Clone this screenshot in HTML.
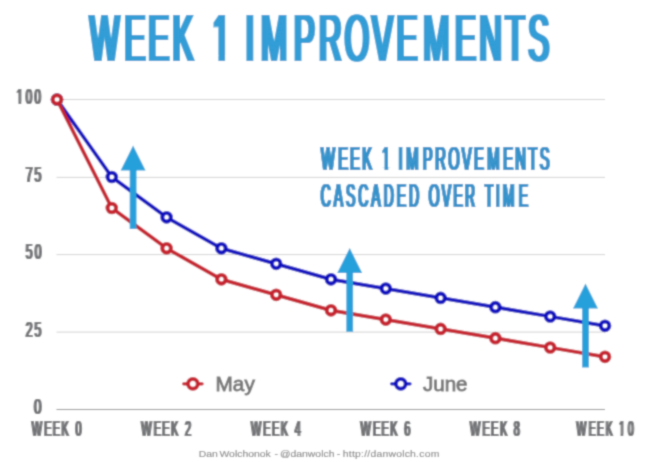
<!DOCTYPE html>
<html><head><meta charset="utf-8"><title>Week 1 Improvements</title>
<style>
html,body{margin:0;padding:0;background:#fff;}
svg{display:block;}
text{font-family:"Liberation Sans",sans-serif;white-space:pre;}
</style></head><body>
<svg width="656" height="462" viewBox="0 0 656 462">
<defs>
<filter id="fat2" x="-5%" y="-30%" width="110%" height="160%"><feOffset in="SourceGraphic" dx="-2" result="o0"/><feOffset in="SourceGraphic" dx="-1" result="o1"/><feOffset in="SourceGraphic" dx="0" result="o2"/><feOffset in="SourceGraphic" dx="1" result="o3"/><feOffset in="SourceGraphic" dx="2" result="o4"/><feMerge><feMergeNode in="o0"/><feMergeNode in="o1"/><feMergeNode in="o2"/><feMergeNode in="o3"/><feMergeNode in="o4"/></feMerge></filter>
<filter id="fat1" x="-5%" y="-30%" width="110%" height="160%"><feOffset in="SourceGraphic" dx="-1.3" result="o0"/><feOffset in="SourceGraphic" dx="-0.65" result="o1"/><feOffset in="SourceGraphic" dx="0" result="o2"/><feOffset in="SourceGraphic" dx="0.65" result="o3"/><feOffset in="SourceGraphic" dx="1.3" result="o4"/><feMerge><feMergeNode in="o0"/><feMergeNode in="o1"/><feMergeNode in="o2"/><feMergeNode in="o3"/><feMergeNode in="o4"/></feMerge></filter>
<filter id="fat06" x="-5%" y="-30%" width="110%" height="160%"><feOffset in="SourceGraphic" dx="-0.85" result="o0"/><feOffset in="SourceGraphic" dx="-0.3" result="o1"/><feOffset in="SourceGraphic" dx="0.3" result="o2"/><feOffset in="SourceGraphic" dx="0.85" result="o3"/><feMerge><feMergeNode in="o0"/><feMergeNode in="o1"/><feMergeNode in="o2"/><feMergeNode in="o3"/></feMerge></filter>
<filter id="soft" filterUnits="userSpaceOnUse" x="-20" y="-20" width="696" height="502"><feConvolveMatrix order="3" kernelMatrix="1 6 1 6 36 6 1 6 1" divisor="64" edgeMode="duplicate" preserveAlpha="false"/><feConvolveMatrix order="3" kernelMatrix="1 6 1 6 36 6 1 6 1" divisor="64" edgeMode="duplicate" preserveAlpha="false"/></filter>
</defs>
<rect width="656" height="462" fill="#fff"/>
<g filter="url(#soft)">
<rect x="-20" y="-20" width="696" height="502" fill="#fff"/>

<line x1="56.5" x2="605" y1="99.5" y2="99.5" stroke="#d2d2d2" stroke-width="1"/>
<line x1="56.5" x2="605" y1="177.4" y2="177.4" stroke="#d2d2d2" stroke-width="1"/>
<line x1="56.5" x2="605" y1="254.6" y2="254.6" stroke="#d2d2d2" stroke-width="1"/>
<line x1="56.5" x2="605" y1="332.1" y2="332.1" stroke="#d2d2d2" stroke-width="1"/>
<line x1="56.5" x2="605" y1="409.5" y2="409.5" stroke="#8a8a8a" stroke-width="1"/>
<g filter="url(#fat2)"><text transform="scale(0.4755,1)" x="188.69 261.85 311.70 362.82 413.29 446.89 477.65 516.14 548.66 618.15 671.02 725.17 782.12 833.84 889.92 956.98 1007.86 1062.88 1110.98" y="60.9" font-size="65.84" font-weight="normal" fill="#309dd6">WEEK 1 IMPROVEMENTS</text></g>
<rect x="211.86" y="55.38" width="6.49" height="6.92" fill="#fff"/>
<rect x="225.11" y="55.38" width="6.24" height="6.92" fill="#fff"/>
<g filter="url(#fat1)"><text transform="scale(0.4522,1)" x="709.89 748.05 774.20 801.05 827.91 844.87 861.68 881.05 898.66 934.99 962.79 991.23 1021.00 1048.17 1077.73 1112.79 1139.50 1168.26 1193.56" y="170.2" font-size="32.56" font-weight="normal" fill="#3492cb">WEEK 1 IMPROVEMENTS</text></g>
<rect x="380.88" y="167.17" width="3.58" height="4.43" fill="#fff"/>
<rect x="388.26" y="167.17" width="3.47" height="4.43" fill="#fff"/>
<g filter="url(#fat1)"><text transform="scale(0.4280,1)" x="749.15 779.66 808.15 836.99 867.49 896.44 927.03 955.78 983.08 1001.48 1032.42 1059.47 1086.56 1113.21 1132.53 1158.24 1174.56 1211.76" y="206.9" font-size="32.56" font-weight="normal" fill="#3492cb">CASCADED OVER TIME</text></g>
<g filter="url(#fat06)"><text transform="scale(0.5059,1)" x="32.50 50.67 68.31" y="104.2" font-size="22.82" font-weight="normal" fill="#707174">100</text></g>
<rect x="15.42" y="101.90" width="3.02" height="3.70" fill="#fff"/>
<rect x="21.26" y="101.90" width="2.93" height="3.70" fill="#fff"/>
<g filter="url(#fat06)"><text transform="scale(0.5354,1)" x="47.92 64.63" y="181.7" font-size="22.82" font-weight="normal" fill="#707174">75</text></g>
<g filter="url(#fat06)"><text transform="scale(0.5299,1)" x="48.71 65.38" y="259.2" font-size="22.82" font-weight="normal" fill="#707174">50</text></g>
<g filter="url(#fat06)"><text transform="scale(0.5349,1)" x="47.99 64.70" y="336.7" font-size="22.82" font-weight="normal" fill="#707174">25</text></g>
<g filter="url(#fat06)"><text transform="scale(0.5867,1)" x="57.91" y="414.2" font-size="22.82" font-weight="normal" fill="#707174">0</text></g>
<g filter="url(#fat06)"><text transform="scale(0.4739,1)" x="66.82 93.17 111.19 129.69 148.98 159.15" y="436.3" font-size="22.97" font-weight="normal" fill="#707174">WEEK 0</text></g>
<g filter="url(#fat06)"><text transform="scale(0.4774,1)" x="295.83 322.01 339.90 358.26 377.47 387.52" y="436.3" font-size="22.97" font-weight="normal" fill="#707174">WEEK 2</text></g>
<g filter="url(#fat06)"><text transform="scale(0.4699,1)" x="533.91 560.46 578.64 597.29 616.67 627.06" y="436.3" font-size="22.97" font-weight="normal" fill="#707174">WEEK 4</text></g>
<g filter="url(#fat06)"><text transform="scale(0.4765,1)" x="756.46 782.69 800.61 819.00 838.23 848.24" y="436.3" font-size="22.97" font-weight="normal" fill="#707174">WEEK 6</text></g>
<g filter="url(#fat06)"><text transform="scale(0.4753,1)" x="989.03 1015.32 1033.29 1051.73 1070.99 1081.12" y="436.3" font-size="22.97" font-weight="normal" fill="#707174">WEEK 8</text></g>
<g filter="url(#fat06)"><text transform="scale(0.4497,1)" x="1281.74 1309.05 1327.80 1347.06 1366.81 1376.33 1396.69" y="436.3" font-size="22.97" font-weight="normal" fill="#707174">WEEK 10</text></g>
<rect x="617.72" y="433.98" width="2.81" height="3.72" fill="#fff"/>
<rect x="623.34" y="433.98" width="2.73" height="3.72" fill="#fff"/>
<polyline points="57.0,99.5 111.8,177.0 166.6,217.3 221.4,248.3 276.2,263.8 331.0,279.3 385.8,288.6 440.6,297.9 495.4,307.2 550.2,316.5 605.0,325.8" fill="none" stroke="#0a0cc0" stroke-width="3.8" stroke-linejoin="round"/>
<circle cx="57.0" cy="99.5" r="4.3" fill="#fff" stroke="#0a0cc0" stroke-width="4.1"/>
<circle cx="111.8" cy="177.0" r="4.3" fill="#fff" stroke="#0a0cc0" stroke-width="4.1"/>
<circle cx="166.6" cy="217.3" r="4.3" fill="#fff" stroke="#0a0cc0" stroke-width="4.1"/>
<circle cx="221.4" cy="248.3" r="4.3" fill="#fff" stroke="#0a0cc0" stroke-width="4.1"/>
<circle cx="276.2" cy="263.8" r="4.3" fill="#fff" stroke="#0a0cc0" stroke-width="4.1"/>
<circle cx="331.0" cy="279.3" r="4.3" fill="#fff" stroke="#0a0cc0" stroke-width="4.1"/>
<circle cx="385.8" cy="288.6" r="4.3" fill="#fff" stroke="#0a0cc0" stroke-width="4.1"/>
<circle cx="440.6" cy="297.9" r="4.3" fill="#fff" stroke="#0a0cc0" stroke-width="4.1"/>
<circle cx="495.4" cy="307.2" r="4.3" fill="#fff" stroke="#0a0cc0" stroke-width="4.1"/>
<circle cx="550.2" cy="316.5" r="4.3" fill="#fff" stroke="#0a0cc0" stroke-width="4.1"/>
<circle cx="605.0" cy="325.8" r="4.3" fill="#fff" stroke="#0a0cc0" stroke-width="4.1"/>
<polyline points="57.0,99.5 111.8,208.0 166.6,248.3 221.4,279.3 276.2,294.8 331.0,310.3 385.8,319.6 440.6,328.9 495.4,338.2 550.2,347.5 605.0,356.8" fill="none" stroke="#c6212f" stroke-width="3.8" stroke-linejoin="round"/>
<circle cx="57.0" cy="99.5" r="4.3" fill="#fff" stroke="#c6212f" stroke-width="4.1"/>
<circle cx="111.8" cy="208.0" r="4.3" fill="#fff" stroke="#c6212f" stroke-width="4.1"/>
<circle cx="166.6" cy="248.3" r="4.3" fill="#fff" stroke="#c6212f" stroke-width="4.1"/>
<circle cx="221.4" cy="279.3" r="4.3" fill="#fff" stroke="#c6212f" stroke-width="4.1"/>
<circle cx="276.2" cy="294.8" r="4.3" fill="#fff" stroke="#c6212f" stroke-width="4.1"/>
<circle cx="331.0" cy="310.3" r="4.3" fill="#fff" stroke="#c6212f" stroke-width="4.1"/>
<circle cx="385.8" cy="319.6" r="4.3" fill="#fff" stroke="#c6212f" stroke-width="4.1"/>
<circle cx="440.6" cy="328.9" r="4.3" fill="#fff" stroke="#c6212f" stroke-width="4.1"/>
<circle cx="495.4" cy="338.2" r="4.3" fill="#fff" stroke="#c6212f" stroke-width="4.1"/>
<circle cx="550.2" cy="347.5" r="4.3" fill="#fff" stroke="#c6212f" stroke-width="4.1"/>
<circle cx="605.0" cy="356.8" r="4.3" fill="#fff" stroke="#c6212f" stroke-width="4.1"/>
<path d="M129.7,229 L129.7,170.6 L120.6,170.6 L133.1,145.6 L145.6,170.6 L136.5,170.6 L136.5,229 Z" fill="#28a0db"/>
<path d="M346.3,331.8 L346.3,273 L337.2,273 L349.7,248 L362.2,273 L353.09999999999997,273 L353.09999999999997,331.8 Z" fill="#28a0db"/>
<path d="M582.1,367.5 L582.1,308.6 L573.0,308.6 L585.5,283.6 L598.0,308.6 L588.9,308.6 L588.9,367.5 Z" fill="#28a0db"/>
<line x1="183.70000000000002" x2="202.1" y1="383.8" y2="383.8" stroke="#c6212f" stroke-width="3.3" stroke-linecap="round"/>
<circle cx="192.9" cy="383.8" r="4.9" fill="#fff" stroke="#c6212f" stroke-width="4.0"/>
<text transform="translate(215.6,390.7) scale(1.075,1)" x="0" y="0" font-size="19.3" fill="#787878" stroke="#787878" stroke-width="0.9">May</text>
<line x1="391.6" x2="410.0" y1="383.8" y2="383.8" stroke="#0a0cc0" stroke-width="3.3" stroke-linecap="round"/>
<circle cx="400.8" cy="383.8" r="4.9" fill="#fff" stroke="#0a0cc0" stroke-width="4.0"/>
<text transform="translate(423.0,390.7) scale(1.065,1)" x="0" y="0" font-size="19.3" fill="#787878" stroke="#787878" stroke-width="0.9">June</text>
<text transform="scale(1.05,1)" y="457.3" font-size="9.9" fill="#838383" stroke="#838383" stroke-width="0.12"><tspan x="189.24">Dan</tspan> <tspan x="209.05">Wolchonok</tspan> <tspan x="261.52">-</tspan> <tspan x="266.67">@danwolch</tspan> <tspan x="320.76">-</tspan> <tspan x="326.48" letter-spacing="0.22">http://danwolch.com</tspan></text>
</g></svg></body></html>
